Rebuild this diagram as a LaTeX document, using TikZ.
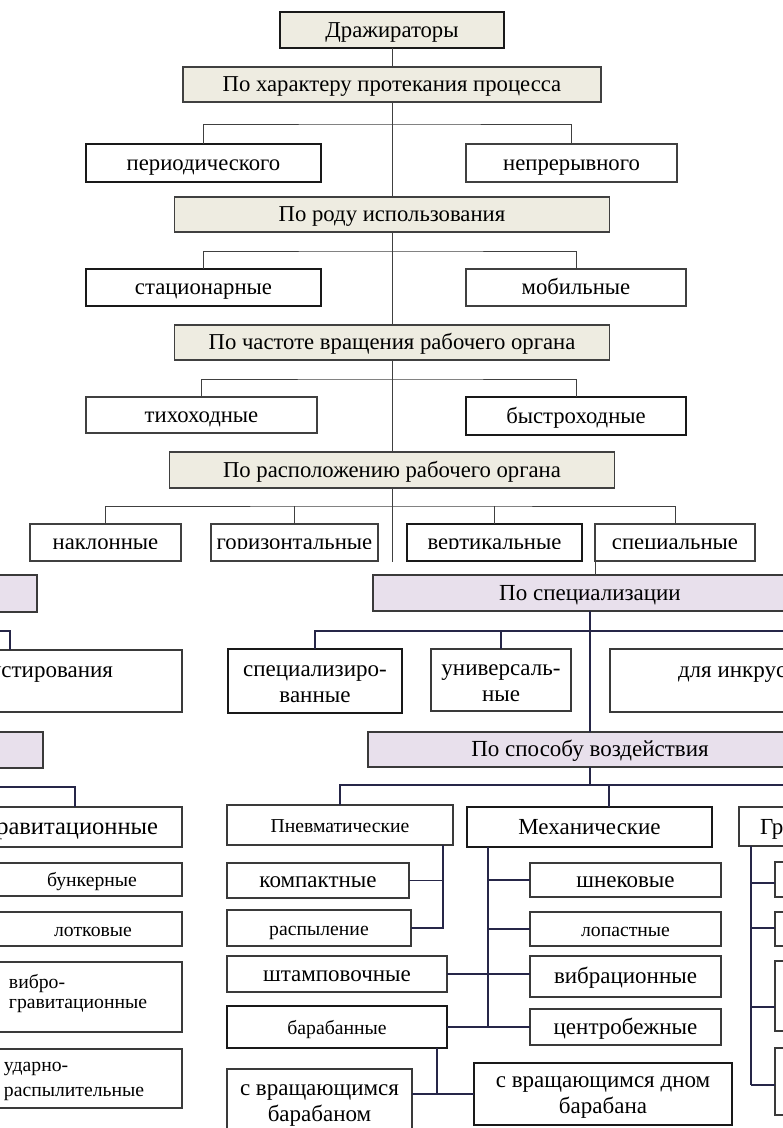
\documentclass[tikz,border=0pt]{standalone}
\usepackage{fontspec}
\setmainfont{Liberation Serif}
\definecolor{beige}{HTML}{EEECE1}
\definecolor{lav}{HTML}{E8E0EC}
\definecolor{tline}{HTML}{404040}
\definecolor{bline}{HTML}{3A3A3A}
\definecolor{bcol}{HTML}{262648}
\newcommand\lastln{\rule[-1pt]{0pt}{1pt}}
\begin{document}
\begin{tikzpicture}[x=1pt,y=-1pt,
  every node/.style={inner sep=0pt, outer sep=0pt},
  topbox/.style={draw=tline, line width=1.1pt, minimum height=36pt, font=\fontsize{22.7}{26}\selectfont, text height=18pt, text depth=4pt},
  hdr/.style={topbox, fill=beige},
  thk/.style={line width=2.6pt, draw=black!90},
  bb/.style={draw=bline, line width=1.3pt},
  L/.style={font=\fontsize{23}{26}\selectfont, text height=18pt, text depth=4pt},
  S/.style={font=\fontsize{19.7}{24}\selectfont, text height=17pt, text depth=3pt},
  M/.style={font=\fontsize{23}{26}\selectfont, align=center},
  lav/.style={bb, fill=lav},
  tcon/.style={draw=tline, line width=1pt},
  bcon/.style={draw=bcol, line width=1.2pt},
]
\useasboundingbox (0,0) rectangle (783,1128);
\clip (0,0) rectangle (783,1128);
\fill[white] (0,0) rectangle (783,1128);

% ---------------- top part ----------------
\node[hdr, thk, minimum width=224pt, minimum height=36pt] (d) at (392,30) {Дражираторы};
\node[hdr, minimum width=418pt, minimum height=35pt] (h1) at (392,84.5) {По характеру протекания процесса};
\node[topbox, thk, minimum width=235pt, minimum height=38pt] (per) at (203.5,163) {периодического};
\node[topbox, minimum width=211pt, minimum height=38pt] (nep) at (571.5,163) {непрерывного};
\node[hdr, minimum width=435pt, minimum height=35pt] (h2) at (392,214.5) {По роду использования};
\node[topbox, thk, minimum width=235pt, minimum height=37pt] (st) at (203.5,287.5) {стационарные};
\node[topbox, minimum width=220pt, minimum height=37pt] (mob) at (576,287.5) {мобильные};
\node[hdr, minimum width=435pt, minimum height=35pt] (h3) at (392,342.5) {По частоте вращения рабочего органа};
\node[topbox, minimum width=231pt, minimum height=36pt] (tix) at (201.5,415) {тихоходные};
\node[topbox, thk, minimum width=220pt, minimum height=38pt] (bys) at (576,416) {быстроходные};
\node[hdr, minimum width=445pt, minimum height=36pt] (h4) at (392,470) {По расположению рабочего органа};

\node[topbox, minimum width=151pt, minimum height=37pt] (nak) at (105.5,542.5) {};
\node[topbox, minimum width=167pt, minimum height=37pt] (gor) at (294.5,542.5) {};
\node[topbox, thk, minimum width=175pt, minimum height=37pt] (ver) at (494.5,542.5) {};
\node[topbox, minimum width=160pt, minimum height=37pt] (spe) at (675,542.5) {};
\begin{scope}
\clip (0,515) rectangle (783,548);
\node[font=\fontsize{22.7}{26}\selectfont, text height=18pt, text depth=4pt] (nakT) at (nak) {наклонные};
\node[font=\fontsize{22.7}{26}\selectfont, text height=18pt, text depth=4pt] (gorT) at (gor) {горизонтальные};
\node[font=\fontsize{22.7}{26}\selectfont, text height=18pt, text depth=4pt] (verT) at (ver) {вертикальные};
\node[font=\fontsize{22.7}{26}\selectfont, text height=18pt, text depth=4pt] (speT) at (spe) {специальные};
\end{scope}

\draw[tcon] (d) -- (h1);
\draw[tcon] (h1) -- (h2);
\draw[tcon] (h2) -- (h3);
\draw[tcon] (h3) -- (h4);
\coordinate (tend) at (392,562);
\draw[tcon] (h4.south) -- (tend);
\coordinate (j1) at (392,124);
\draw[tcon] (per.north) |- (j1) -| (nep.north);
\coordinate (j2) at (392,251);
\draw[tcon] (st.north) |- (j2) -| (mob.north);
\coordinate (j3) at (392,379);
\draw[tcon] (tix.north) |- (j3) -| (bys.north);
\coordinate (j4) at (392,506);
\draw[tcon] (nak.north) |- (j4) -| (spe.north);
\draw[tcon] (gor.north) -- (gor.north |- j4);
\draw[tcon] (ver.north) -- (ver.north |- j4);

% ---------------- bottom part ----------------
\node[lav, minimum width=77pt, minimum height=37pt] (lc1) at (-1.5,593.5) {};
\node[lav, L, minimum width=434pt, minimum height=36pt] (ps) at (590,593) {По специализации};
\draw[tcon] (spe.south west) -- (spe.south west |- ps.north);

\node[bb, minimum width=282pt, minimum height=62pt] (incL) at (41,681) {};
\node[font=\fontsize{23}{26}\selectfont, anchor=base east] (incLt) at (113,677) {для инкрустирования};
\node[bb, M, thk, minimum width=174pt, minimum height=64pt] (spec) at (315,681) {\strut специализиро-\\\lastln ванные};
\node[bb, M, minimum width=140pt, minimum height=62pt] (univ) at (501,680) {\strut универсаль-\\\lastln ные};
\node[bb, minimum width=400pt, minimum height=63pt] (incR) at (810,680.5) {};
\node[font=\fontsize{23}{26}\selectfont, anchor=base west] (incRt) at (678,677) {для инкрустирования};

\node[lav, minimum width=83pt, minimum height=36pt] (lc2) at (1.5,750) {};
\node[lav, L, minimum width=444pt, minimum height=35pt] (psv) at (590,749.5) {По способу воздействия};

% left column
\node[bb, minimum width=282pt, minimum height=40pt] (grL) at (41,827) {};
\node[font=\fontsize{24.5}{28}\selectfont, anchor=base east] (grLt) at (158,834) {Гравитационные};
\node[bb, minimum width=282pt, minimum height=33pt] (bunk) at (41,879.5) {};
\node[S] (bunkT) at (92,879.5) {бункерные};
\node[bb, minimum width=282pt, minimum height=34pt] (lotk) at (41,929) {};
\node[S] (lotkT) at (93,929) {лотковые};
\node[bb, minimum width=282pt, minimum height=70pt] (vgr) at (41,997) {};
\node[font=\fontsize{19.7}{20}\selectfont, anchor=west, align=left] (vgrT) at (9,994) {\strut вибро-\\\strut гравитационные};
\node[bb, minimum width=282pt, minimum height=59pt] (udr) at (41,1078.5) {};
\node[font=\fontsize{19.7}{25}\selectfont, anchor=west, align=left] (udrT) at (4,1079) {\strut ударно-\\\strut распылительные};

\coordinate (lk1) at (-5,631);
\coordinate (lk1x) at (10,0);
\draw[bcon] (lk1) -| (lk1x |- incL.north);
\coordinate (lk2) at (-5,787);
\coordinate (lk2x) at (75,0);
\draw[bcon] (lk2) -| (lk2x |- grL.north);

% specialisation branch
\draw[bcon] (ps) -- (psv);
\coordinate (j5e) at (800,631);
\draw[bcon] (spec.north) |- (j5e);
\draw[bcon] (univ.north) -- (univ.north |- j5e);

% action branch
\node[bb, S, minimum width=226pt, minimum height=40pt] (pn) at (340,825) {Пневматические};
\node[bb, L, thk, minimum width=245pt, minimum height=40pt] (mech) at (589.5,827) {Механические};
\node[bb, minimum width=260pt, minimum height=39pt] (grR) at (869,826.5) {};
\node[font=\fontsize{23}{26}\selectfont, anchor=base west] (grRt) at (760,834) {Гравитационные};

\coordinate (j6) at (590,785);
\coordinate (j6e) at (800,785);
\coordinate (mx) at (609,0);
\draw[bcon] (psv.south) -- (j6);
\draw[bcon] (pn.north) |- (j6e);
\draw[bcon] (mx |- j6) -- (mx |- mech.north);

\node[bb, L, minimum width=182pt, minimum height=35pt] (komp) at (318,880.5) {компактные};
\node[bb, S, minimum width=184pt, minimum height=36pt] (rasp) at (319,928) {распыление};
\node[bb, L, minimum width=220pt, minimum height=36pt] (shtamp) at (337,974) {штамповочные};
\node[bb, S, thk, minimum width=220pt, minimum height=42pt] (bar) at (337,1027) {барабанные};

\node[bb, L, minimum width=191pt, minimum height=34pt] (shnek) at (625.5,880) {шнековые};
\node[bb, S, minimum width=191pt, minimum height=34pt] (lop) at (625.5,929) {лопастные};
\node[bb, L, minimum width=191pt, minimum height=41pt] (vib) at (625.5,976.5) {вибрационные};
\node[bb, L, minimum width=191pt, minimum height=36pt] (centr) at (625.5,1027) {центробежные};

\node[bb, M, minimum width=185pt, minimum height=66pt] (sbar) at (319.5,1102) {\strut с вращающимся\\\lastln барабаном};
\node[bb, M, thk, minimum width=258pt, minimum height=62pt] (sdn) at (603,1094) {\strut с вращающимся дном\\\lastln барабана};

\coordinate (px) at (443,0);
\draw[bcon] (px |- pn.south) |- (rasp.east);
\draw[bcon] (komp.east) -- (px |- komp.east);

\coordinate (mtx) at (488,0);
\draw[bcon] (mtx |- mech.south) -- (mtx |- centr.west);
\draw[bcon] (mtx |- shnek.west) -- (shnek.west);
\draw[bcon] (mtx |- lop.west) -- (lop.west);
\draw[bcon] (shtamp.east) -- (vib.west |- shtamp.east);
\draw[bcon] (bar.east) -- (centr.west);

\coordinate (bx) at (437,0);
\draw[bcon] (bx |- bar.south) -- (bx |- sdn.west);
\draw[bcon] (sbar.east |- sdn.west) -- (sdn.west);

% right column
\node[bb, minimum width=225pt, minimum height=35pt] (r1) at (887.5,879.5) {};
\node[bb, minimum width=225pt, minimum height=34pt] (r2) at (887.5,929) {};
\node[bb, minimum width=225pt, minimum height=70pt] (r3) at (887.5,996) {};
\node[bb, minimum width=225pt, minimum height=67pt] (r4) at (887.5,1081.5) {};
\coordinate (g1) at (751,883);
\coordinate (g2) at (751,928);
\coordinate (g3) at (751,1007);
\coordinate (g4) at (751,1085);
\draw[bcon] (g4 |- grR.south) -- (g4);
\draw[bcon] (g1) -- (g1 -| r1.west);
\draw[bcon] (g2) -- (g2 -| r2.west);
\draw[bcon] (g3) -- (g3 -| r3.west);
\draw[bcon] (g4) -- (g4 -| r4.west);
\end{tikzpicture}
\end{document}
